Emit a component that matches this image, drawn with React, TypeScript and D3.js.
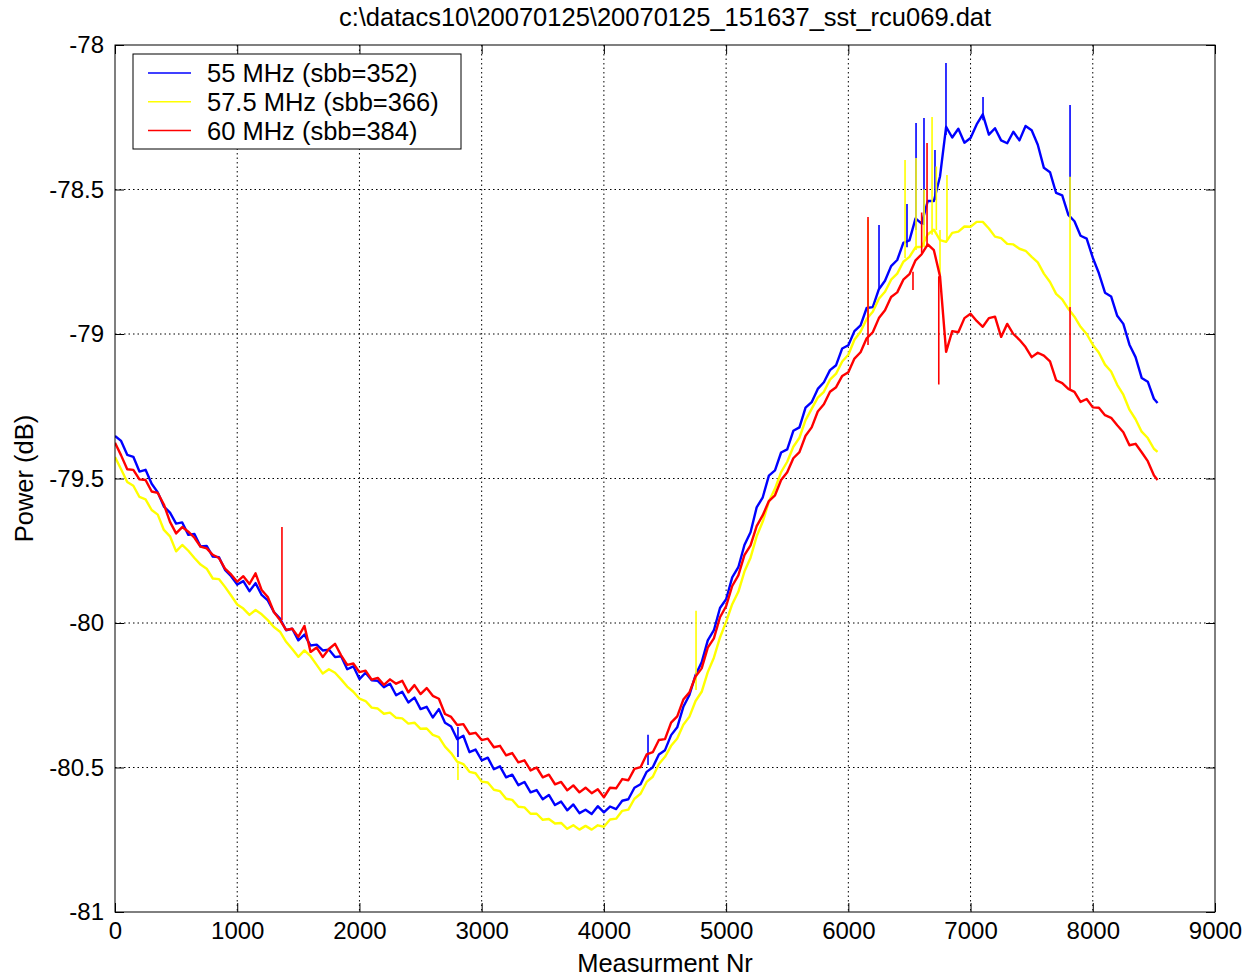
import React from 'react'
import * as d3 from 'd3'

// measurement numbers (sample positions) shared by all three series
const measNr = [
  0, 50, 100, 150, 200, 250, 300, 350, 400, 450,
  500, 550, 600, 650, 700, 750, 800, 850, 900, 950,
  1000, 1050, 1100, 1150, 1200, 1250, 1300, 1350, 1400, 1450,
  1500, 1550, 1600, 1650, 1700, 1750, 1800, 1850, 1900, 1950,
  2000, 2050, 2100, 2150, 2200, 2250, 2300, 2350, 2400, 2450,
  2500, 2550, 2600, 2650, 2700, 2750, 2800, 2850, 2900, 2950,
  3000, 3050, 3100, 3150, 3200, 3250, 3300, 3350, 3400, 3450,
  3500, 3550, 3600, 3650, 3700, 3750, 3800, 3850, 3900, 3950,
  4000, 4050, 4100, 4150, 4200, 4250, 4300, 4350, 4400, 4450,
  4500, 4550, 4600, 4650, 4700, 4750, 4800, 4850, 4900, 4950,
  5000, 5050, 5100, 5150, 5200, 5250, 5300, 5350, 5400, 5450,
  5500, 5550, 5600, 5650, 5700, 5750, 5800, 5850, 5900, 5950,
  6000, 6050, 6100, 6150, 6200, 6250, 6300, 6350, 6400, 6450,
  6500, 6550, 6600, 6650, 6700, 6750, 6800, 6850, 6900, 6950,
  7000, 7050, 7100, 7150, 7200, 7250, 7300, 7350, 7400, 7450,
  7500, 7550, 7600, 7650, 7700, 7750, 7800, 7850, 7900, 7950,
  8000, 8050, 8100, 8150, 8200, 8250, 8300, 8350, 8400, 8450,
  8500, 8530,
]

// 55 MHz (sbb=352)
const blue55 = [
  -79.353, -79.370, -79.418, -79.425, -79.476, -79.470, -79.518, -79.548, -79.597, -79.618,
  -79.656, -79.652, -79.695, -79.692, -79.735, -79.733, -79.770, -79.772, -79.816, -79.838,
  -79.867, -79.855, -79.890, -79.862, -79.903, -79.922, -79.962, -79.985, -80.025, -80.020,
  -80.060, -80.040, -80.078, -80.075, -80.095, -80.092, -80.118, -80.115, -80.160, -80.150,
  -80.194, -80.172, -80.198, -80.200, -80.222, -80.210, -80.250, -80.238, -80.275, -80.258,
  -80.298, -80.290, -80.327, -80.298, -80.345, -80.358, -80.402, -80.390, -80.447, -80.438,
  -80.475, -80.466, -80.506, -80.496, -80.534, -80.525, -80.561, -80.550, -80.586, -80.578,
  -80.610, -80.595, -80.630, -80.618, -80.648, -80.628, -80.658, -80.646, -80.661, -80.634,
  -80.655, -80.635, -80.644, -80.615, -80.610, -80.570, -80.558, -80.515, -80.499, -80.455,
  -80.440, -80.388, -80.361, -80.290, -80.249, -80.180, -80.136, -80.060, -80.025, -79.948,
  -79.918, -79.842, -79.807, -79.730, -79.686, -79.600, -79.565, -79.490, -79.472, -79.410,
  -79.399, -79.335, -79.323, -79.255, -79.236, -79.190, -79.167, -79.125, -79.108, -79.050,
  -79.039, -78.990, -78.970, -78.910, -78.907, -78.845, -78.816, -78.765, -78.744, -78.685,
  -78.676, -78.600, -78.618, -78.540, -78.540, -78.455, -78.283, -78.320, -78.290, -78.338,
  -78.322, -78.275, -78.240, -78.310, -78.288, -78.330, -78.340, -78.300, -78.330, -78.280,
  -78.295, -78.345, -78.425, -78.440, -78.512, -78.520, -78.588, -78.610, -78.660, -78.670,
  -78.736, -78.790, -78.857, -78.870, -78.937, -78.965, -79.037, -79.080, -79.152, -79.165,
  -79.224, -79.239,
]

// 57.5 MHz (sbb=366)
const yellow575 = [
  -79.426, -79.468, -79.512, -79.525, -79.564, -79.572, -79.609, -79.625, -79.678, -79.700,
  -79.752, -79.730, -79.750, -79.775, -79.798, -79.812, -79.846, -79.848, -79.875, -79.905,
  -79.936, -79.950, -79.972, -79.955, -79.970, -79.990, -80.014, -80.030, -80.065, -80.090,
  -80.117, -80.095, -80.115, -80.145, -80.175, -80.160, -80.172, -80.195, -80.220, -80.238,
  -80.262, -80.270, -80.293, -80.296, -80.314, -80.310, -80.328, -80.330, -80.348, -80.345,
  -80.366, -80.365, -80.387, -80.395, -80.428, -80.450, -80.480, -80.488, -80.515, -80.520,
  -80.549, -80.552, -80.577, -80.582, -80.608, -80.612, -80.636, -80.638, -80.660, -80.660,
  -80.681, -80.678, -80.694, -80.692, -80.712, -80.700, -80.715, -80.702, -80.715, -80.700,
  -80.705, -80.680, -80.677, -80.650, -80.646, -80.608, -80.591, -80.550, -80.532, -80.488,
  -80.463, -80.425, -80.400, -80.352, -80.324, -80.270, -80.238, -80.170, -80.120, -80.050,
  -79.996, -79.935, -79.892, -79.822, -79.774, -79.700, -79.649, -79.580, -79.535, -79.478,
  -79.442, -79.390, -79.359, -79.298, -79.259, -79.220, -79.200, -79.158, -79.137, -79.095,
  -79.072, -79.020, -78.992, -78.948, -78.923, -78.878, -78.854, -78.812, -78.791, -78.750,
  -78.733, -78.700, -78.698, -78.655, -78.639, -78.675, -78.681, -78.650, -78.646, -78.628,
  -78.629, -78.612, -78.612, -78.635, -78.663, -78.668, -78.688, -78.690, -78.705, -78.712,
  -78.733, -78.752, -78.791, -78.820, -78.861, -78.880, -78.913, -78.940, -78.975, -79.000,
  -79.037, -79.065, -79.106, -79.130, -79.176, -79.210, -79.262, -79.295, -79.338, -79.360,
  -79.397, -79.408,
]

// 60 MHz (sbb=384)
const red60 = [
  -79.376, -79.420, -79.468, -79.470, -79.503, -79.505, -79.545, -79.550, -79.590, -79.650,
  -79.690, -79.668, -79.684, -79.705, -79.736, -79.742, -79.764, -79.775, -79.812, -79.832,
  -79.857, -79.838, -79.865, -79.828, -79.886, -79.910, -79.962, -79.990, -80.024, -80.020,
  -80.048, -80.010, -80.100, -80.085, -80.118, -80.090, -80.072, -80.112, -80.145, -80.140,
  -80.170, -80.165, -80.196, -80.190, -80.214, -80.195, -80.210, -80.200, -80.240, -80.215,
  -80.246, -80.225, -80.252, -80.262, -80.315, -80.325, -80.353, -80.350, -80.384, -80.380,
  -80.405, -80.400, -80.430, -80.425, -80.458, -80.450, -80.482, -80.475, -80.510, -80.500,
  -80.534, -80.525, -80.558, -80.550, -80.579, -80.562, -80.586, -80.570, -80.589, -80.575,
  -80.603, -80.570, -80.572, -80.540, -80.544, -80.505, -80.499, -80.455, -80.447, -80.405,
  -80.402, -80.345, -80.323, -80.265, -80.240, -80.185, -80.157, -80.085, -80.053, -79.980,
  -79.942, -79.872, -79.835, -79.765, -79.731, -79.665, -79.627, -79.578, -79.558, -79.505,
  -79.478, -79.430, -79.409, -79.352, -79.323, -79.268, -79.243, -79.200, -79.184, -79.145,
  -79.132, -79.085, -79.063, -79.015, -78.994, -78.945, -78.918, -78.872, -78.856, -78.812,
  -78.793, -78.745, -78.724, -78.690, -78.710, -78.800, -79.062, -78.990, -78.994, -78.945,
  -78.930, -78.955, -78.975, -78.945, -78.940, -79.010, -78.965, -79.000, -79.020, -79.045,
  -79.080, -79.065, -79.075, -79.095, -79.160, -79.170, -79.190, -79.200, -79.235, -79.225,
  -79.254, -79.255, -79.281, -79.290, -79.316, -79.340, -79.385, -79.380, -79.409, -79.440,
  -79.489, -79.505,
]

// single-sample spikes: [measurement nr, from dB, to dB]
const blueSpikes = [
  [2806, -80.360, -80.464], [4361, -80.491, -80.387], [6251, -78.848, -78.623],
  [6480, -78.700, -78.550], [6554, -78.640, -78.270], [6619, -78.623, -78.253],
  [6709, -78.536, -78.363], [6799, -78.311, -78.062], [7102, -78.260, -78.180],
  [7814, -78.588, -78.208],
]
const yellowSpikes = [
  [2806, -80.485, -80.543], [4754, -80.232, -79.958], [6161, -78.952, -78.605],
  [6464, -78.737, -78.398], [6554, -78.709, -78.391], [6620, -78.700, -78.500],
  [6685, -78.657, -78.249], [6720, -78.640, -78.420], [6750, -78.640, -78.823],
  [6807, -78.675, -78.450], [7814, -78.907, -78.456],
]
const redSpikes = [
  [1366, -79.990, -79.668], [6161, -79.038, -78.595], [6529, -78.785, -78.848],
  [6600, -78.720, -78.580], [6644, -78.692, -78.339], [6740, -78.800, -79.175],
  [7814, -79.194, -78.907],
]

const seriesNames = ['55 MHz (sbb=352)', '57.5 MHz (sbb=366)', '60 MHz (sbb=384)']
const seriesColors = ['#0000ff', '#ffff00', '#ff0000']
const xTicks = [0, 1000, 2000, 3000, 4000, 5000, 6000, 7000, 8000, 9000]
const yTicks = [-81, -80.5, -80, -79.5, -79, -78.5, -78]
const yTickLabels = ['-81', '-80.5', '-80', '-79.5', '-79', '-78.5', '-78']
const titleText = 'c:\\datacs10\\20070125\\20070125_151637_sst_rcu069.dat'
const xLabel = 'Measurment Nr'
const yLabel = 'Power (dB)'

const W = 1245
const H = 977
const PL = 115, PR = 1215, PT = 45, PB = 912
const FONT = '"Liberation Sans", Arial, Helvetica, sans-serif'
const FS = 24       // tick labels
const FS_LBL = 25.5 // title, axis labels, legend
const TICK = 9

export default function App() {
  const svgRef = React.useRef<SVGSVGElement>(null)

  React.useEffect(() => {
    const svg = d3.select(svgRef.current!)
    svg.selectAll('*').remove()

    const x = d3.scaleLinear().domain([0, 9000]).range([PL, PR])
    const y = d3.scaleLinear().domain([-81, -78]).range([PB, PT])

    svg.append('rect').attr('width', W).attr('height', H).attr('fill', '#fff')

    svg.append('defs').append('clipPath').attr('id', 'plotclip')
      .append('rect').attr('x', PL).attr('y', PT).attr('width', PR - PL).attr('height', PB - PT)

    // dotted grid
    const grid = svg.append('g').attr('stroke', '#000').attr('stroke-width', 1)
      .attr('stroke-dasharray', '1.5,3')
    xTicks.slice(1, -1).forEach(t => {
      grid.append('line').attr('x1', x(t)).attr('x2', x(t)).attr('y1', PT).attr('y2', PB)
    })
    yTicks.slice(1, -1).forEach(t => {
      grid.append('line').attr('x1', PL).attr('x2', PR).attr('y1', y(t)).attr('y2', y(t))
    })

    // data: blue, yellow, red (red drawn on top)
    const plot = svg.append('g').attr('clip-path', 'url(#plotclip)')
    const line = d3.line<number>().x((_, i) => x(measNr[i])).y(d => y(d))
    const series = [blue55, yellow575, red60]
    const spikes = [blueSpikes, yellowSpikes, redSpikes]
    series.forEach((vals, k) => {
      plot.append('path').datum(vals)
        .attr('d', line)
        .attr('fill', 'none')
        .attr('stroke', seriesColors[k])
        .attr('stroke-width', 2.4)
        .attr('stroke-linejoin', 'round')
      plot.append('path')
        .attr('d', spikes[k].map(s => `M${x(s[0])},${y(s[1])}V${y(s[2])}`).join(''))
        .attr('fill', 'none')
        .attr('stroke', seriesColors[k])
        .attr('stroke-width', 1.6)
    })

    // axes (ticks inside, MATLAB style box)
    const styleAxis = (g: any) => {
      g.select('.domain').remove()
      g.selectAll('line').attr('stroke', '#000')
      g.attr('font-family', FONT).attr('font-size', FS)
      g.selectAll('text').attr('fill', '#000')
    }
    svg.append('g').attr('transform', `translate(0,${PB})`)
      .call(d3.axisBottom(x).tickValues(xTicks).tickSize(-TICK).tickPadding(10).tickFormat(d3.format('d')) as any)
      .call(styleAxis)
    svg.append('g').attr('transform', `translate(0,${PT})`)
      .call(d3.axisTop(x).tickValues(xTicks).tickSize(-TICK).tickFormat(() => '') as any)
      .call(styleAxis)
    svg.append('g').attr('transform', `translate(${PL},0)`)
      .call(d3.axisLeft(y).tickValues(yTicks).tickSize(-TICK).tickPadding(11)
        .tickFormat((_, i) => yTickLabels[i]) as any)
      .call(styleAxis)
    svg.append('g').attr('transform', `translate(${PR},0)`)
      .call(d3.axisRight(y).tickValues(yTicks).tickSize(-TICK).tickFormat(() => '') as any)
      .call(styleAxis)

    svg.append('rect')
      .attr('x', PL).attr('y', PT).attr('width', PR - PL).attr('height', PB - PT)
      .attr('fill', 'none').attr('stroke', '#000').attr('stroke-width', 1)

    // labels
    svg.append('text').attr('x', (PL + PR) / 2).attr('y', 26)
      .attr('text-anchor', 'middle').attr('font-family', FONT).attr('font-size', FS_LBL)
      .text(titleText)
    svg.append('text').attr('x', (PL + PR) / 2).attr('y', 972)
      .attr('text-anchor', 'middle').attr('font-family', FONT).attr('font-size', FS_LBL)
      .text(xLabel)
    svg.append('text').attr('transform', `translate(33,${(PT + PB) / 2}) rotate(-90)`)
      .attr('text-anchor', 'middle').attr('font-family', FONT).attr('font-size', FS_LBL)
      .text(yLabel)

    // legend
    const lg = svg.append('g')
    lg.append('rect').attr('x', 133).attr('y', 54).attr('width', 328).attr('height', 95)
      .attr('fill', '#fff').attr('stroke', '#000').attr('stroke-width', 1)
    seriesNames.forEach((name, i) => {
      const ly = 73 + i * 28.8
      lg.append('line').attr('x1', 148).attr('x2', 191).attr('y1', ly).attr('y2', ly)
        .attr('stroke', seriesColors[i]).attr('stroke-width', 1.5)
      lg.append('text').attr('x', 207).attr('y', ly + 9)
        .attr('font-family', FONT).attr('font-size', FS_LBL).text(name)
    })
  }, [])

  return (
    <svg ref={svgRef} width={W} height={H}
      style={{ position: 'absolute', left: 0, top: 0, display: 'block' }} />
  )
}
